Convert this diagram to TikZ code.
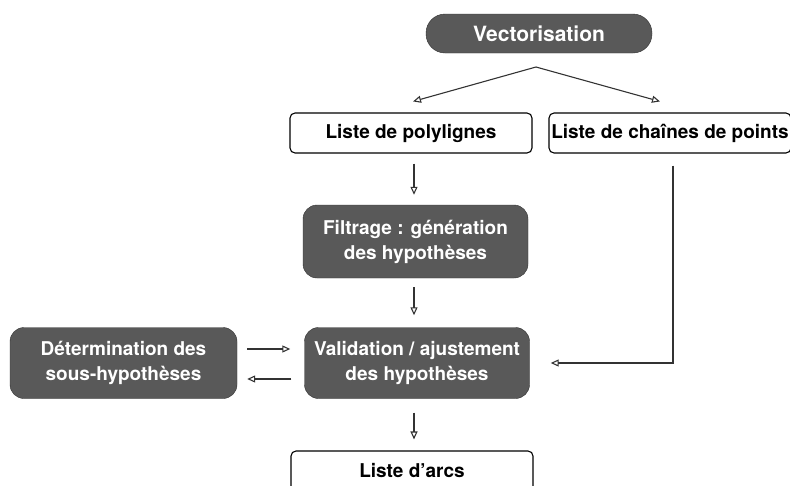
\documentclass[tikz,border=0pt]{standalone}
\usepackage{fontspec}
\setmainfont{TeX Gyre Heros}
\usepackage{tikz}
\usetikzlibrary{arrows.meta, positioning, calc}

\begin{document}
\begin{tikzpicture}[
        x=1pt, y=-1pt,
        darkblock/.style={rectangle, draw=black!80, fill=black!65, rounded corners=14pt, align=center, text=white, inner sep=0pt, minimum width=225pt, minimum height=71pt, font=\fontsize{19}{25}\selectfont\bfseries},
        listblock/.style={rectangle, draw, line width=1.1pt, rounded corners=5pt, align=center, minimum width=242pt, minimum height=40pt, inner sep=0pt, font=\fontsize{19}{22}\selectfont\bfseries},
        arrow/.style={-{Triangle[open, length=8pt, width=7pt]}, line width=1.1pt, draw=black!80}
    ]
        \useasboundingbox (0,0) rectangle (790,485);
        \node[darkblock, rounded corners=19pt, minimum width=226pt, minimum height=39pt, font=\fontsize{21}{25}\selectfont\bfseries] (vect) at (539,33.5) {Vectorisation};
        \coordinate (split) at (536,67);
        \node[listblock] (poly) at (411,133) {Liste de polylignes};
        \node[listblock] (chain) at (670,133) {Liste de chaînes de points};
        \node[darkblock, minimum height=73pt] (filt) at (415.5,241.5) {Filtrage : génération\\des hypothèses};
        \node[darkblock] (valid) at (417,363) {Validation / ajustement\\des hypothèses};
        \node[darkblock, minimum width=227pt] (sous) at (123.5,363) {Détermination des\\sous-hypothèses};
        \node[listblock] (arcs) at (412,471) {Liste d'arcs};

        \draw[arrow] (split) -- ([xshift=2pt, yshift=11pt]poly.north);
        \draw[arrow] (split) -- ([xshift=-10pt, yshift=11pt]chain.north);
        \draw[arrow, shorten <=10pt, shorten >=10pt] ([xshift=3pt]poly.south) -- ([xshift=3pt]poly.south |- filt.north);
        \draw[arrow, shorten <=9pt, shorten >=12pt] ([xshift=-1.5pt]filt.south) -- ([xshift=-1.5pt]filt.south |- valid.north);
        \draw[arrow, shorten <=14pt, shorten >=11pt] ([xshift=-3pt]valid.south) -- ([xshift=-3pt]valid.south |- arcs.north);
        \draw[arrow, shorten <=12pt, shorten >=21pt] ([xshift=3pt]chain.south) |- (valid.east);
        \draw[arrow, shorten <=10pt, shorten >=14pt] ([yshift=14pt]sous.east) -- ([yshift=14pt]valid.west);
        \draw[arrow, shorten <=13pt, shorten >=10pt] ([yshift=-16pt]valid.west) -- ([yshift=-16pt]sous.east);
    \end{tikzpicture}
\end{document}
